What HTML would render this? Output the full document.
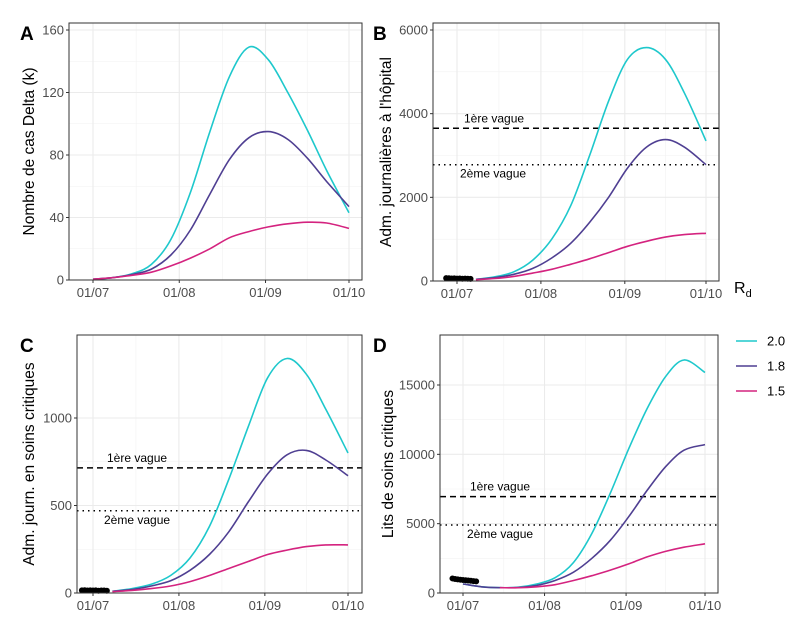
<!DOCTYPE html>
<html><head><meta charset="utf-8"><style>
body{margin:0;background:#fff;}
svg{font-family:"Liberation Sans",Arial,sans-serif;}
</style></head><body>
<svg id="chart" width="795" height="625" viewBox="0 0 795 625" xmlns="http://www.w3.org/2000/svg"></svg>
<script>
// ---- data (days since 01/07) ----
const days = [0,7,14,21,28,35,42,49,56,63,70,77,84,92];
const seriesNames = ["2.0","1.8","1.5"];
const colors = ["#1ec8cc","#4f3f92","#d4237f"];
const xTickLabels = ["01/07","01/08","01/09","01/10"];
const xTickDays = [0,31,62,92];

const aCyan = [0.5,1.5,4,10,26,56,95,130,149,141,120,96,70,43];
const aPurple = [0.5,1.5,3.5,7,16,32,55,77,91,95,90,78,63,47];
const aMagenta = [0.5,1.5,3,5,9,14,20,27,31,34,36,37,36.5,33];
const aTicks = [0,40,80,120,160];

const bCyan = [20,40,100,220,500,1000,1800,3000,4300,5300,5580,5300,4500,3350];
const bPurple = [20,40,80,160,300,550,900,1400,2000,2700,3200,3380,3200,2780];
const bMagenta = [20,30,60,110,190,280,400,530,680,830,950,1050,1110,1140];
const bTicks = [0,2000,4000,6000];
const bWaves = [3650,2780];

const cCyan = [5,10,25,50,100,200,380,650,950,1230,1340,1250,1050,800];
const cPurple = [5,10,20,40,70,130,220,350,520,680,790,815,760,670];
const cMagenta = [5,8,15,25,40,65,100,140,180,220,245,265,275,275];
const cTicks = [0,500,1000];
const cWaves = [715,470];

const dCyan = [650,450,380,420,650,1100,2200,4300,7200,10400,13300,15600,16800,15900];
const dPurple = [650,450,380,400,550,900,1500,2500,3800,5500,7400,9100,10300,10700];
const dMagenta = [650,450,380,380,450,600,900,1250,1650,2100,2600,3000,3300,3550];
const dTicks = [0,5000,10000,15000];
const dWaves = [6950,4900];

const obsDays = [-4,-3,-2,-1,0,1,2,3,4,5];
const bObs = [70,65,60,62,58,60,55,58,55,52];
const cObs = [15,16,14,15,14,15,13,14,14,13];
const dObs = [1050,1010,980,960,940,920,900,880,860,840];

const svg = document.getElementById('chart');
const NS = "http://www.w3.org/2000/svg";
function mk(tag, attrs, parent){
  const e = document.createElementNS(NS, tag);
  for (const k in attrs) e.setAttribute(k, attrs[k]);
  (parent||svg).appendChild(e);
  return e;
}
function smooth(pts){
  let d = "M"+pts[0][0]+","+pts[0][1];
  for (let i=0;i<pts.length-1;i++){
    const p0=pts[Math.max(0,i-1)],p1=pts[i],p2=pts[i+1],p3=pts[Math.min(pts.length-1,i+2)];
    const c1=[p1[0]+(p2[0]-p0[0])/6,p1[1]+(p2[1]-p0[1])/6];
    const c2=[p2[0]-(p3[0]-p1[0])/6,p2[1]-(p3[1]-p1[1])/6];
    d+=" C"+c1[0].toFixed(1)+","+c1[1].toFixed(1)+" "+c2[0].toFixed(1)+","+c2[1].toFixed(1)+" "+p2[0].toFixed(1)+","+p2[1].toFixed(1);
  }
  return d;
}

function panel(cfg){
  const g = mk('g',{});
  
  
  const xs = d => cfg.x0 + d*(cfg.x92-cfg.x0)/92;
  const ys = v => cfg.y0 - v*(cfg.y0-cfg.yTop)/cfg.vTop;
  for (let i=0;i<cfg.ticks.length-1;i++){
    const v=(cfg.ticks[i]+cfg.ticks[i+1])/2;
    const gl=mk('line',{x1:cfg.L,x2:cfg.R,y1:ys(v),y2:ys(v),stroke:"#f2f2f2","stroke-width":0.6},g);
    
    
  }
  for (let i=0;i<xTickDays.length-1;i++){
    const xv=xs((xTickDays[i]+xTickDays[i+1])/2);
    const gl=mk('line',{x1:xv,x2:xv,y1:cfg.T,y2:cfg.B,stroke:"#f2f2f2","stroke-width":0.6},g);
    
    
  }
  cfg.ticks.forEach(v=>{
    const gl=mk('line',{x1:cfg.L,x2:cfg.R,y1:ys(v),y2:ys(v),stroke:"#ebebeb","stroke-width":1.1},g);
    
    
    mk('line',{x1:cfg.L-3,x2:cfg.L,y1:ys(v),y2:ys(v),stroke:"#333","stroke-width":1},g);
    const t=mk('text',{x:cfg.L-5,y:ys(v)+4.5,"text-anchor":"end","font-size":13,fill:"#4d4d4d"},g);
    t.textContent=v;
    
    
  });
  xTickDays.forEach((d,i)=>{
    const gl=mk('line',{x1:xs(d),x2:xs(d),y1:cfg.T,y2:cfg.B,stroke:"#ebebeb","stroke-width":1.1},g);
    
    
    mk('line',{x1:xs(d),x2:xs(d),y1:cfg.B,y2:cfg.B+3,stroke:"#333","stroke-width":1},g);
    const t=mk('text',{x:xs(d),y:cfg.B+17,"text-anchor":"middle","font-size":13,fill:"#4d4d4d"},g);
    t.textContent=xTickLabels[i];
    
    
  });
  if (cfg.waves){
    const l1=mk('line',{x1:cfg.L,x2:cfg.R,y1:ys(cfg.waves[0]),y2:ys(cfg.waves[0]),stroke:"#000","stroke-width":1.5,"stroke-dasharray":"6,4"},g);
    
    
    const l2=mk('line',{x1:cfg.L,x2:cfg.R,y1:ys(cfg.waves[1]),y2:ys(cfg.waves[1]),stroke:"#000","stroke-width":1.5,"stroke-dasharray":"1.5,4"},g);
    
    
    const t1=mk('text',{x:cfg.lx1,y:ys(cfg.waves[0])-6,"font-size":12,fill:"#000"},g);
    t1.textContent="1ère vague";
    
    
    const t2=mk('text',{x:cfg.lx2,y:ys(cfg.waves[1])+13,"font-size":12,fill:"#000"},g);
    t2.textContent="2ème vague";
    
    
  }
  cfg.series.forEach((vals,si)=>{
    const pts=[];
    days.forEach((d,i)=>{ if(d>=cfg.start[si]) pts.push([xs(d),ys(vals[i])]); });
    const p=mk('path',{d:smooth(pts),fill:"none",stroke:colors[si],"stroke-width":1.6},g);
    
    
  });
  if (cfg.obs){
    cfg.obs.forEach((v,i)=>{
      const c=mk('circle',{cx:xs(obsDays[i]),cy:ys(v),r:3,fill:"#000"},g);
      
      
    });
  }
  const fr=mk('rect',{x:cfg.L,y:cfg.T,width:cfg.R-cfg.L,height:cfg.B-cfg.T,fill:"none",stroke:"#333","stroke-width":1},g);
  
  
  const yt=mk('text',{x:0,y:0,"text-anchor":"middle","font-size":15.5,fill:"#000",transform:"translate("+cfg.ytx+","+((cfg.T+cfg.B)/2)+") rotate(-90)"},g);
  yt.textContent=cfg.ytitle;
  
  
  const lt=mk('text',{x:cfg.lbx,y:cfg.T+17,"font-size":19,"font-weight":"bold",fill:"#000"},g);
  lt.textContent=cfg.letter;
  
  
}

panel({letter:"A",L:69,R:362,T:23,B:280,x0:93,x92:349,y0:280,yTop:30,vTop:160,ticks:aTicks,
  series:[aCyan,aPurple,aMagenta],start:[0,0,0],ytitle:"Nombre de cas Delta (k)",ytx:34,lbx:20});
panel({letter:"B",L:433,R:719,T:23,B:281,x0:457,x92:706,y0:281,yTop:30,vTop:6000,ticks:bTicks,
  series:[bCyan,bPurple,bMagenta],start:[7,7,7],waves:bWaves,lx1:464,lx2:460,obs:bObs,ytitle:"Adm. journalières à l'hôpital",ytx:391,lbx:373});
panel({letter:"C",L:77,R:362,T:335,B:593,x0:93,x92:348,y0:593,yTop:418,vTop:1000,ticks:cTicks,
  series:[cCyan,cPurple,cMagenta],start:[7,7,7],waves:cWaves,lx1:107,lx2:104,obs:cObs,ytitle:"Adm. journ. en soins critiques",ytx:34,lbx:20});
panel({letter:"D",L:440,R:718,T:335,B:593,x0:463,x92:705,y0:593,yTop:385,vTop:15000,ticks:dTicks,
  series:[dCyan,dPurple,dMagenta],start:[0,0,14],waves:dWaves,lx1:470,lx2:467,obs:dObs,ytitle:"Lits de soins critiques",ytx:393,lbx:373});

// legend
const lg = mk('g',{});


const lgt = mk('text',{x:734,y:293,"font-size":16,fill:"#000"},lg);
lgt.innerHTML = 'R<tspan font-size="11" dy="4">d</tspan>';


seriesNames.forEach((n,i)=>{
  const y = 341 + i*25;
  const l = mk('line',{x1:736,x2:757,y1:y,y2:y,stroke:colors[i],"stroke-width":1.6},lg);
  
  
  const t = mk('text',{x:767,y:y+4.5,"font-size":13,fill:"#000"},lg);
  t.textContent = n;
  
  
});
</script>
</body></html>
